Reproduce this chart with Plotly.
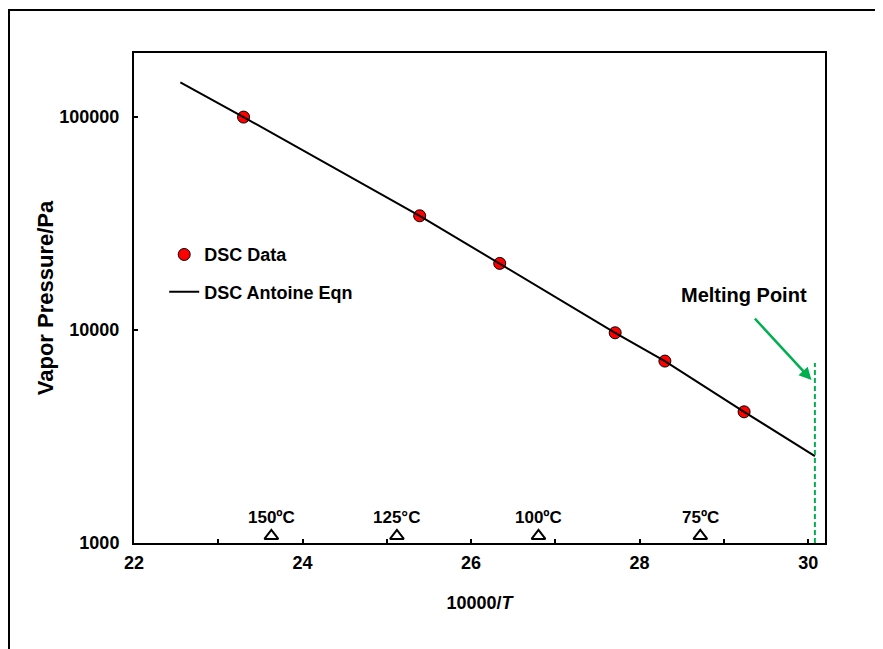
import math
import plotly.graph_objects as go

# DSC data
dsc_x = [23.30, 25.39, 26.34, 27.71, 28.30, 29.24]
dsc_p = [100000, 34400, 20560, 9710, 7150, 4130]

# Antoine equation curve
ant_x = [22.55, 23.30, 25.39, 26.34, 27.71, 28.30, 29.24, 30.08]
ant_p = [145500, 100000, 34400, 20560, 9710, 7150, 4130, 2560]

# temperature markers
temp_x = [23.63, 25.12, 26.80, 28.72]
temp_y = [1080, 1080, 1080, 1080]
temp_labels = ["150ºC", "125°C", "100ºC", "75ºC"]

# melting point
mp_x = [30.08, 30.08]
mp_p = [1000, 7000]

y_ticks = [1000, 10000, 100000]
y_ticktext = ["1000", "10000", "100000"]

FONT = "Liberation Sans, Arial, sans-serif"
GREEN = "#00B050"

W, H = 875, 641
ML, MR, MT, MB = 126, 58, 45, 106
PW, PH = W - ML - MR, H - MT - MB

fig = go.Figure()

fig.add_trace(go.Scatter(
    x=dsc_x, y=dsc_p, mode="markers", name="DSC Data",
    marker=dict(color="#FF0000", size=12, line=dict(color="black", width=1)),
    legendgroup="a", cliponaxis=False))
fig.add_trace(go.Scatter(
    x=ant_x, y=ant_p, mode="lines", name="DSC Antoine Eqn",
    line=dict(color="black", width=2), legendgroup="b"))
fig.add_trace(go.Scatter(
    x=temp_x, y=temp_y, mode="markers", showlegend=False,
    marker=dict(symbol="triangle-up-open", color="black", size=12,
                line=dict(width=2)), cliponaxis=False))
fig.add_trace(go.Scatter(
    x=mp_x, y=mp_p, mode="lines", showlegend=False,
    line=dict(color=GREEN, width=2, dash="5px,3px"), cliponaxis=False))

for tx, lab in zip(temp_x, temp_labels):
    fig.add_annotation(x=tx, y=3.122, text=lab, showarrow=False,
                       font=dict(family=FONT, size=17, color="black", weight="bold"))

fig.add_annotation(x=29.24, y=4.164, text="Melting Point", showarrow=False,
                   font=dict(family=FONT, size=20, color="black", weight="bold"))
fig.add_annotation(x=30.04, y=3.765, text="", showarrow=True,
                   ax=-58, ay=-63, arrowhead=2, arrowsize=1, arrowwidth=2.5,
                   arrowcolor=GREEN)

# outer frame
fig.add_shape(type="rect", xref="paper", yref="paper",
              x0=(1 - ML) / PW, x1=(W + 20 - ML) / PW,
              y0=(PH - (H + 20 - MT)) / PH, y1=(PH - (2 - MT)) / PH,
              line=dict(color="black", width=2), layer="below")

fig.update_layout(
    width=W, height=H,
    margin=dict(l=ML, r=MR, t=MT, b=MB, pad=0),
    paper_bgcolor="white", plot_bgcolor="white",
    font=dict(family=FONT, size=18, color="black", weight="bold"),
    showlegend=True,
    legend=dict(x=0.0437, y=0.626, xanchor="left", yanchor="top",
                bgcolor="rgba(0,0,0,0)", traceorder="grouped",
                tracegroupgap=11,
                font=dict(family=FONT, size=18, color="black", weight="bold")),
)

fig.update_xaxes(
    range=[22, 30.2], dtick=2, tick0=22,
    ticks="inside", ticklen=4, tickwidth=1.5, tickcolor="black",
    minor=dict(ticks="inside", dtick=1, ticklen=4, tickwidth=1.5, tickcolor="black"),
    showline=True, linecolor="black", linewidth=2, mirror=True,
    showgrid=False, zeroline=False,
    tickfont=dict(family=FONT, size=18, color="black", weight="bold"),
    ticklabelstandoff=2,
    title=dict(text="10000/<i>T</i>", standoff=25,
               font=dict(family=FONT, size=18, color="black", weight="bold")),
)
fig.update_yaxes(
    type="log", range=[3, math.log10(200000)],
    tickvals=y_ticks, ticktext=y_ticktext,
    ticks="inside", ticklen=4, tickwidth=1.5, tickcolor="black",
    showline=True, linecolor="black", linewidth=2, mirror=True,
    showgrid=False, zeroline=False,
    tickfont=dict(family=FONT, size=18, color="black", weight="bold"),
    ticklabelstandoff=9,
    title=dict(text="Vapor Pressure/Pa", standoff=0,
               font=dict(family=FONT, size=22, color="black", weight="bold")),
)

fig.write_html("out.html")
